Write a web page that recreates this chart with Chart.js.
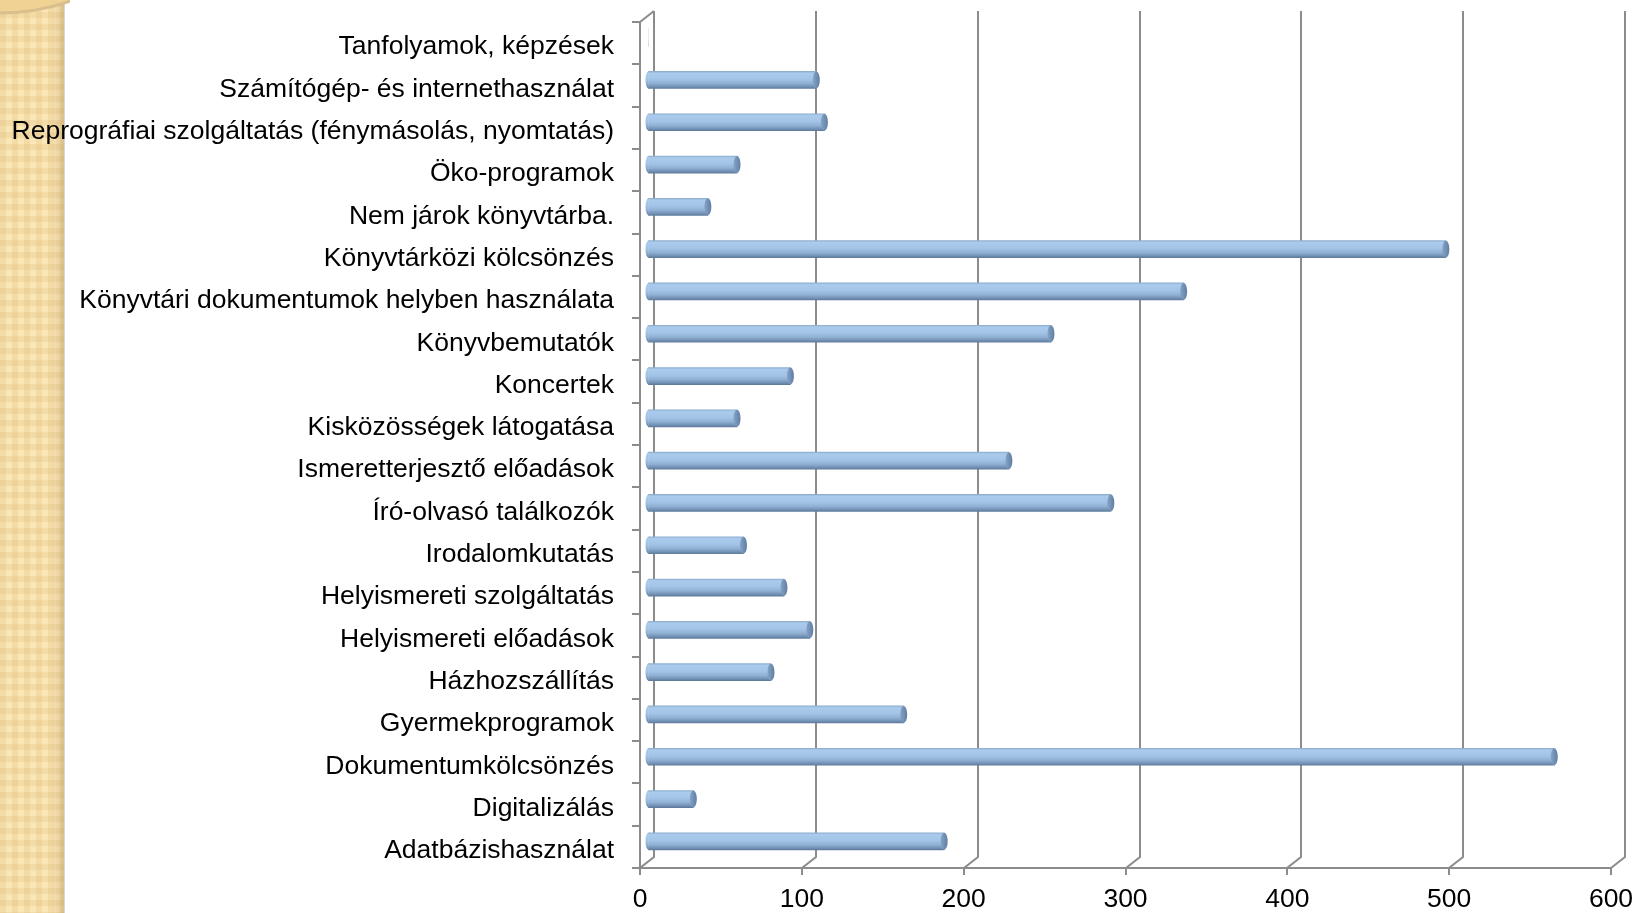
<!DOCTYPE html>
<html>
<head>
<meta charset="utf-8">
<script src="https://cdn.jsdelivr.net/npm/chart.js@4.4.1/dist/chart.umd.min.js"></script>
<style>
  html, body { margin: 0; padding: 0; width: 1650px; height: 913px; background: #ffffff; overflow: hidden; }
  #strip {
    position: absolute; left: 0; top: 0; width: 64px; height: 913px;
    background-color: #fbe6b6;
    background-image:
      linear-gradient(to right, rgba(0,0,0,0) 52px, rgba(170,140,80,0.18) 58px, rgba(160,130,70,0.30) 64px),
      repeating-linear-gradient(to right, rgba(215,180,110,0.22) 0 6px, rgba(0,0,0,0) 6px 12px),
      repeating-linear-gradient(to bottom, rgba(215,180,110,0.22) 0 6px, rgba(0,0,0,0) 6px 12px);
    border-right: 1px solid #dcd6cc;
  }
  #circ { position: absolute; left: 0; top: 0; width: 70px; height: 20px; }
  #wrap { position: absolute; left: 0; top: 0; width: 1650px; height: 913px; }
</style>
</head>
<body>
<div id="strip"></div>
<canvas id="circ" width="70" height="20"></canvas>
<div id="wrap"><canvas id="c" width="1650" height="913"></canvas></div>
<script>
const categories = [
  "Tanfolyamok, képzések",
  "Számítógép- és internethasználat",
  "Reprográfiai szolgáltatás (fénymásolás, nyomtatás)",
  "Öko-programok",
  "Nem járok könyvtárba.",
  "Könyvtárközi kölcsönzés",
  "Könyvtári dokumentumok helyben használata",
  "Könyvbemutatók",
  "Koncertek",
  "Kisközösségek látogatása",
  "Ismeretterjesztő előadások",
  "Író-olvasó találkozók",
  "Irodalomkutatás",
  "Helyismereti szolgáltatás",
  "Helyismereti előadások",
  "Házhozszállítás",
  "Gyermekprogramok",
  "Dokumentumkölcsönzés",
  "Digitalizálás",
  "Adatbázishasználat"
];
const values = [0, 104, 109, 55, 37, 493, 331, 249, 88, 55, 223, 286, 59, 84, 100, 76, 158, 560, 28, 183];
const xTicks = [0, 100, 200, 300, 400, 500, 600];

// decorative circle at top-left
(function(){
  const c = document.getElementById('circ').getContext('2d');
  c.beginPath(); c.arc(0, -200, 213, 0, Math.PI * 2);
  c.fillStyle = '#efd294'; c.fill();
  c.lineWidth = 3; c.strokeStyle = '#d8bf8c'; c.stroke();
})();

const DX = 14, DY = -11;       // depth offset for back wall
const BX = 8, BY = -5.5;       // bar offset (mid depth)
const BAR_H = 17;
const GRID = '#8c8c8c';
const FONT = { family: 'Liberation Sans', size: 26.5 };

function barGradient(chart, yc) {
  if (!isFinite(yc)) return '#a3c4e6';
  const g = chart.ctx.createLinearGradient(0, yc - BAR_H / 2, 0, yc + BAR_H / 2);
  g.addColorStop(0.0, '#8eaed0');
  g.addColorStop(0.1, '#aacbec');
  g.addColorStop(0.45, '#a3c4e6');
  g.addColorStop(0.7, '#90b0d4');
  g.addColorStop(0.88, '#7493b6');
  g.addColorStop(1.0, '#5f7c9e');
  return g;
}

const frame3d = {
  id: 'frame3d',
  beforeDatasetsDraw(chart) {
    const ctx = chart.ctx, xs = chart.scales.x, ca = chart.chartArea;
    ctx.save();
    ctx.strokeStyle = GRID; ctx.lineWidth = 2; ctx.lineCap = 'butt';
    xTicks.forEach(v => {
      const x = Math.round(xs.getPixelForValue(v));
      ctx.beginPath();
      ctx.moveTo(x + DX, ca.top + DY);
      ctx.lineTo(x + DX, ca.bottom + DY);
      ctx.lineTo(x, ca.bottom);
      ctx.lineTo(x, ca.bottom + 7);
      ctx.stroke();
    });
    ctx.beginPath();
    ctx.moveTo(ca.left - 8, ca.bottom);
    ctx.lineTo(xs.getPixelForValue(600), ca.bottom);
    ctx.stroke();
    ctx.beginPath();
    ctx.moveTo(ca.left, ca.bottom);
    ctx.lineTo(ca.left, ca.top);
    ctx.lineTo(ca.left + DX, ca.top + DY);
    ctx.stroke();
    const n = categories.length;
    for (let i = 0; i <= n; i++) {
      const y = Math.round(ca.top + (ca.bottom - ca.top) * i / n);
      ctx.beginPath();
      ctx.moveTo(ca.left - 8, y);
      ctx.lineTo(ca.left, y);
      ctx.stroke();
    }
    ctx.restore();
    ctx.save();
    ctx.translate(BX, BY);
  },
  afterDatasetsDraw(chart) {
    const ctx = chart.ctx;
    const meta = chart.getDatasetMeta(0);
    meta.data.forEach((el, i) => {
      if (!values[i]) return;
      const p = el.getProps(['x', 'y', 'base'], true);
      ctx.save();
      ctx.beginPath();
      ctx.ellipse(p.base, p.y, 3, BAR_H / 2, 0, Math.PI / 2, Math.PI * 1.5);
      ctx.closePath();
      ctx.fillStyle = barGradient(chart, p.y);
      ctx.fill();
      ctx.beginPath();
      ctx.ellipse(p.x, p.y, 3.5, BAR_H / 2, 0, 0, Math.PI * 2);
      const g = ctx.createLinearGradient(p.x - 3.5, 0, p.x + 3.5, 0);
      g.addColorStop(0, '#86a4c6');
      g.addColorStop(1, '#5f7ea3');
      ctx.fillStyle = g;
      ctx.fill();
      ctx.restore();
    });
    ctx.restore();
  }
};

const chart = new Chart(document.getElementById('c'), {
  type: 'bar',
  data: {
    labels: categories,
    datasets: [{
      data: values,
      barThickness: BAR_H,
      borderWidth: 0,
      backgroundColor(ctx) {
        const chart = ctx.chart;
        if (!chart.scales || !chart.scales.y || ctx.dataIndex === undefined) return '#a3c4e6';
        const yc = chart.scales.y.getPixelForValue(ctx.dataIndex);
        return barGradient(chart, yc);
      }
    }]
  },
  options: {
    indexAxis: 'y',
    responsive: false,
    animation: false,
    events: [],
    layout: { padding: { top: 22, right: 39, bottom: 0, left: 0 } },
    plugins: { legend: { display: false }, tooltip: { enabled: false } },
    scales: {
      x: {
        min: 0, max: 600,
        afterBuildTicks(scale) { scale.ticks = xTicks.map(v => ({ value: v })); },
        afterFit(scale) { scale.height = 45; scale.paddingLeft = 0; scale.paddingRight = 0; },
        grid: { display: true, color: 'rgba(0,0,0,0)', drawTicks: false, tickLength: 0 },
        border: { display: false },
        ticks: { color: '#000000', padding: 16, font: FONT }
      },
      y: {
        afterFit(scale) { scale.width = 640; scale.paddingTop = 0; scale.paddingBottom = 0; },
        grid: { display: true, color: 'rgba(0,0,0,0)', drawTicks: false, tickLength: 0 },
        border: { display: false },
        ticks: { color: '#000000', padding: 26, labelOffset: 4, font: FONT, autoSkip: false }
      }
    }
  },
  plugins: [frame3d]
});
chart.update();
</script>
</body>
</html>
